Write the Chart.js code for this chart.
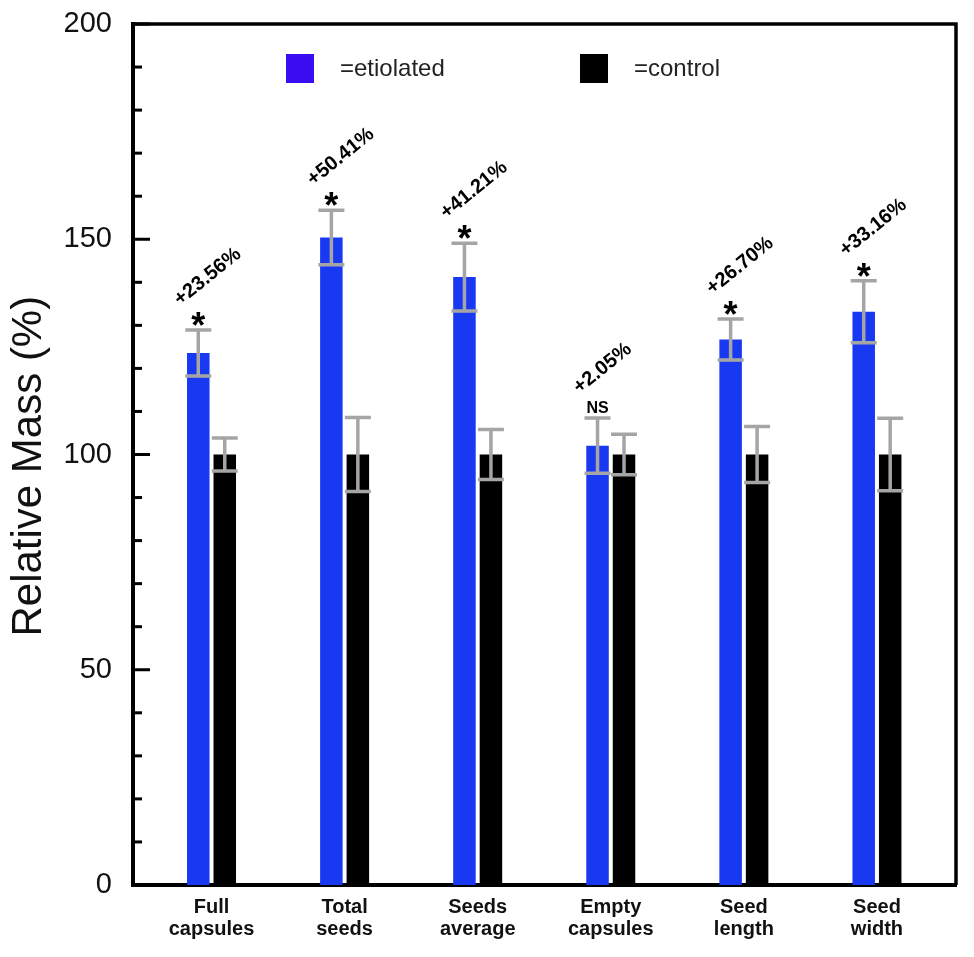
<!DOCTYPE html>
<html><head><meta charset="utf-8">
<script src="https://cdn.jsdelivr.net/npm/chart.js@4.4.0/dist/chart.umd.min.js"></script>
<style>html,body{margin:0;padding:0;background:#fff;}</style>
</head><body>
<canvas id="c" width="974" height="957"></canvas>
<script>
const categories = [['Full','capsules'],['Total','seeds'],['Seeds','average'],['Empty','capsules'],['Seed','length'],['Seed','width']];
const etiolated = [123.56, 150.41, 141.21, 102.05, 126.70, 133.16];
const etiolatedErr = [5.35, 6.35, 7.85, 6.4, 4.75, 7.2];
const control = [100, 100, 100, 100, 100, 100];
const controlErr = [3.85, 8.6, 5.8, 4.7, 6.5, 8.4];
const changeLabels = ['+23.56%', '+50.41%', '+41.21%', '+2.05%', '+26.70%', '+33.16%'];
const significance = ['*', '*', '*', 'NS', '*', '*'];
const seriesNames = ['=etiolated', '=control'];
const yTickStep = 50;
const yMinorStep = 10;

const FONT = 'Liberation Sans, Arial, Helvetica, sans-serif';
const BLUE = '#1838f2';
const LEGEND_BLUE = '#3a0ef0';

function toPoints(arr){ return arr.map((v,i)=>({x:i, y:v})); }

const frameAndTicks = {
  id:'frameAndTicks',
  afterDraw(chart){
    const {ctx, chartArea:a, scales:{y}} = chart;
    ctx.save();
    ctx.strokeStyle = '#000';
    ctx.lineWidth = 3.5;
    ctx.beginPath();
    ctx.moveTo(a.left, a.top); ctx.lineTo(a.right, a.top); ctx.lineTo(a.right, a.bottom);
    ctx.stroke();
    ctx.lineWidth = 3;
    for (let v = y.min; v <= y.max; v += yMinorStep){
      const py = y.getPixelForValue(v);
      const len = (v % yTickStep === 0) ? 17 : 9;
      ctx.beginPath(); ctx.moveTo(a.left, py); ctx.lineTo(a.left + len, py); ctx.stroke();
    }
    ctx.restore();
  }
};

const errorBars = {
  id:'errorBars',
  afterDatasetsDraw(chart){
    const {ctx, scales:{y}} = chart;
    ctx.save();
    ctx.strokeStyle = '#a5a5a5';
    ctx.lineWidth = 3.5;
    chart.data.datasets.forEach((ds, di) => {
      const meta = chart.getDatasetMeta(di);
      meta.data.forEach((bar, i) => {
        const v = ds.data[i].y, e = ds.errors[i];
        const top = y.getPixelForValue(v + e), bot = y.getPixelForValue(v - e);
        const half = 13;
        ctx.beginPath();
        ctx.moveTo(bar.x, top); ctx.lineTo(bar.x, bot);
        ctx.moveTo(bar.x - half, top); ctx.lineTo(bar.x + half, top);
        ctx.moveTo(bar.x - half, bot); ctx.lineTo(bar.x + half, bot);
        ctx.stroke();
      });
    });
    const meta = chart.getDatasetMeta(0);
    ctx.fillStyle = '#000';
    meta.data.forEach((bar, i) => {
      const top = y.getPixelForValue(etiolated[i] + etiolatedErr[i]);
      const sig = significance[i];
      ctx.font = sig === '*' ? 'bold 36px ' + FONT : 'bold 16px ' + FONT;
      ctx.textAlign = 'center';
      ctx.textBaseline = 'alphabetic';
      const m = ctx.measureText(sig);
      const cy = top - 11;
      const base = cy + (m.actualBoundingBoxAscent - m.actualBoundingBoxDescent) / 2;
      ctx.fillText(sig, bar.x, base);
      ctx.save();
      ctx.translate(bar.x - 18, top - 24);
      ctx.rotate(-39 * Math.PI / 180);
      ctx.font = 'bold 20px ' + FONT;
      ctx.textAlign = 'left';
      ctx.fillText(changeLabels[i], 0, 0);
      ctx.restore();
    });
    ctx.restore();
  }
};

const boxLegend = {
  id:'boxLegend',
  afterDraw(chart){
    const {ctx, chartArea:a} = chart;
    const items = [
      {color: LEGEND_BLUE, text: seriesNames[0], x: a.left + 153},
      {color: chart.data.datasets[1].backgroundColor, text: seriesNames[1], x: a.left + 447}
    ];
    ctx.save();
    ctx.font = '24px ' + FONT;
    ctx.textBaseline = 'middle';
    ctx.textAlign = 'left';
    items.forEach(it => {
      ctx.fillStyle = it.color;
      ctx.fillRect(it.x, a.top + 30, 28, 29);
      ctx.fillStyle = '#222';
      ctx.fillText(it.text, it.x + 54, a.top + 45);
    });
    ctx.restore();
  }
};

new Chart(document.getElementById('c'), {
  type: 'bar',
  data: {
    datasets: [
      {label: seriesNames[0], data: toPoints(etiolated), errors: etiolatedErr, backgroundColor: BLUE,
       categoryPercentage: 0.398, barPercentage: 0.85},
      {label: seriesNames[1], data: toPoints(control), errors: controlErr, backgroundColor: '#000',
       categoryPercentage: 0.398, barPercentage: 0.85}
    ]
  },
  options: {
    responsive: false,
    animation: false,
    layout: {padding: {left: 0, top: 24, right: 18, bottom: 0}},
    plugins: {legend: {display: false}, tooltip: {enabled: false}},
    scales: {
      x: {
        type: 'linear', min: -0.59, max: 5.594, offset: false, bounds: 'data',
        afterBuildTicks: s => { s.ticks = categories.map((c, i) => ({value: i})); },
        afterFit: s => { s.height = 72; s.paddingLeft = 0; s.paddingRight = 0; },
        grid: {display: false, offset: false},
        border: {display: true, width: 4, color: '#000'},
        ticks: {
          callback: v => categories[v] ?? '',
          font: {family: FONT, size: 20, weight: 'bold', lineHeight: 1.1},
          color: '#111', padding: 3, maxRotation: 0, autoSkip: false
        }
      },
      y: {
        min: 0, max: 200,
        afterFit: s => { s.width = 133; s.paddingTop = 0; s.paddingBottom = 0; },
        grid: {display: false},
        border: {display: true, width: 4, color: '#000'},
        ticks: {stepSize: yTickStep, font: {family: FONT, size: 29}, color: '#111', padding: 13},
        title: {display: true, text: 'Relative Mass (%)\u00A0\u00A0', color: '#111',
                font: {family: FONT, size: 42, lineHeight: 1}, padding: {top: 8, bottom: 0}}
      }
    }
  },
  plugins: [frameAndTicks, errorBars, boxLegend]
});
</script>
</body></html>
